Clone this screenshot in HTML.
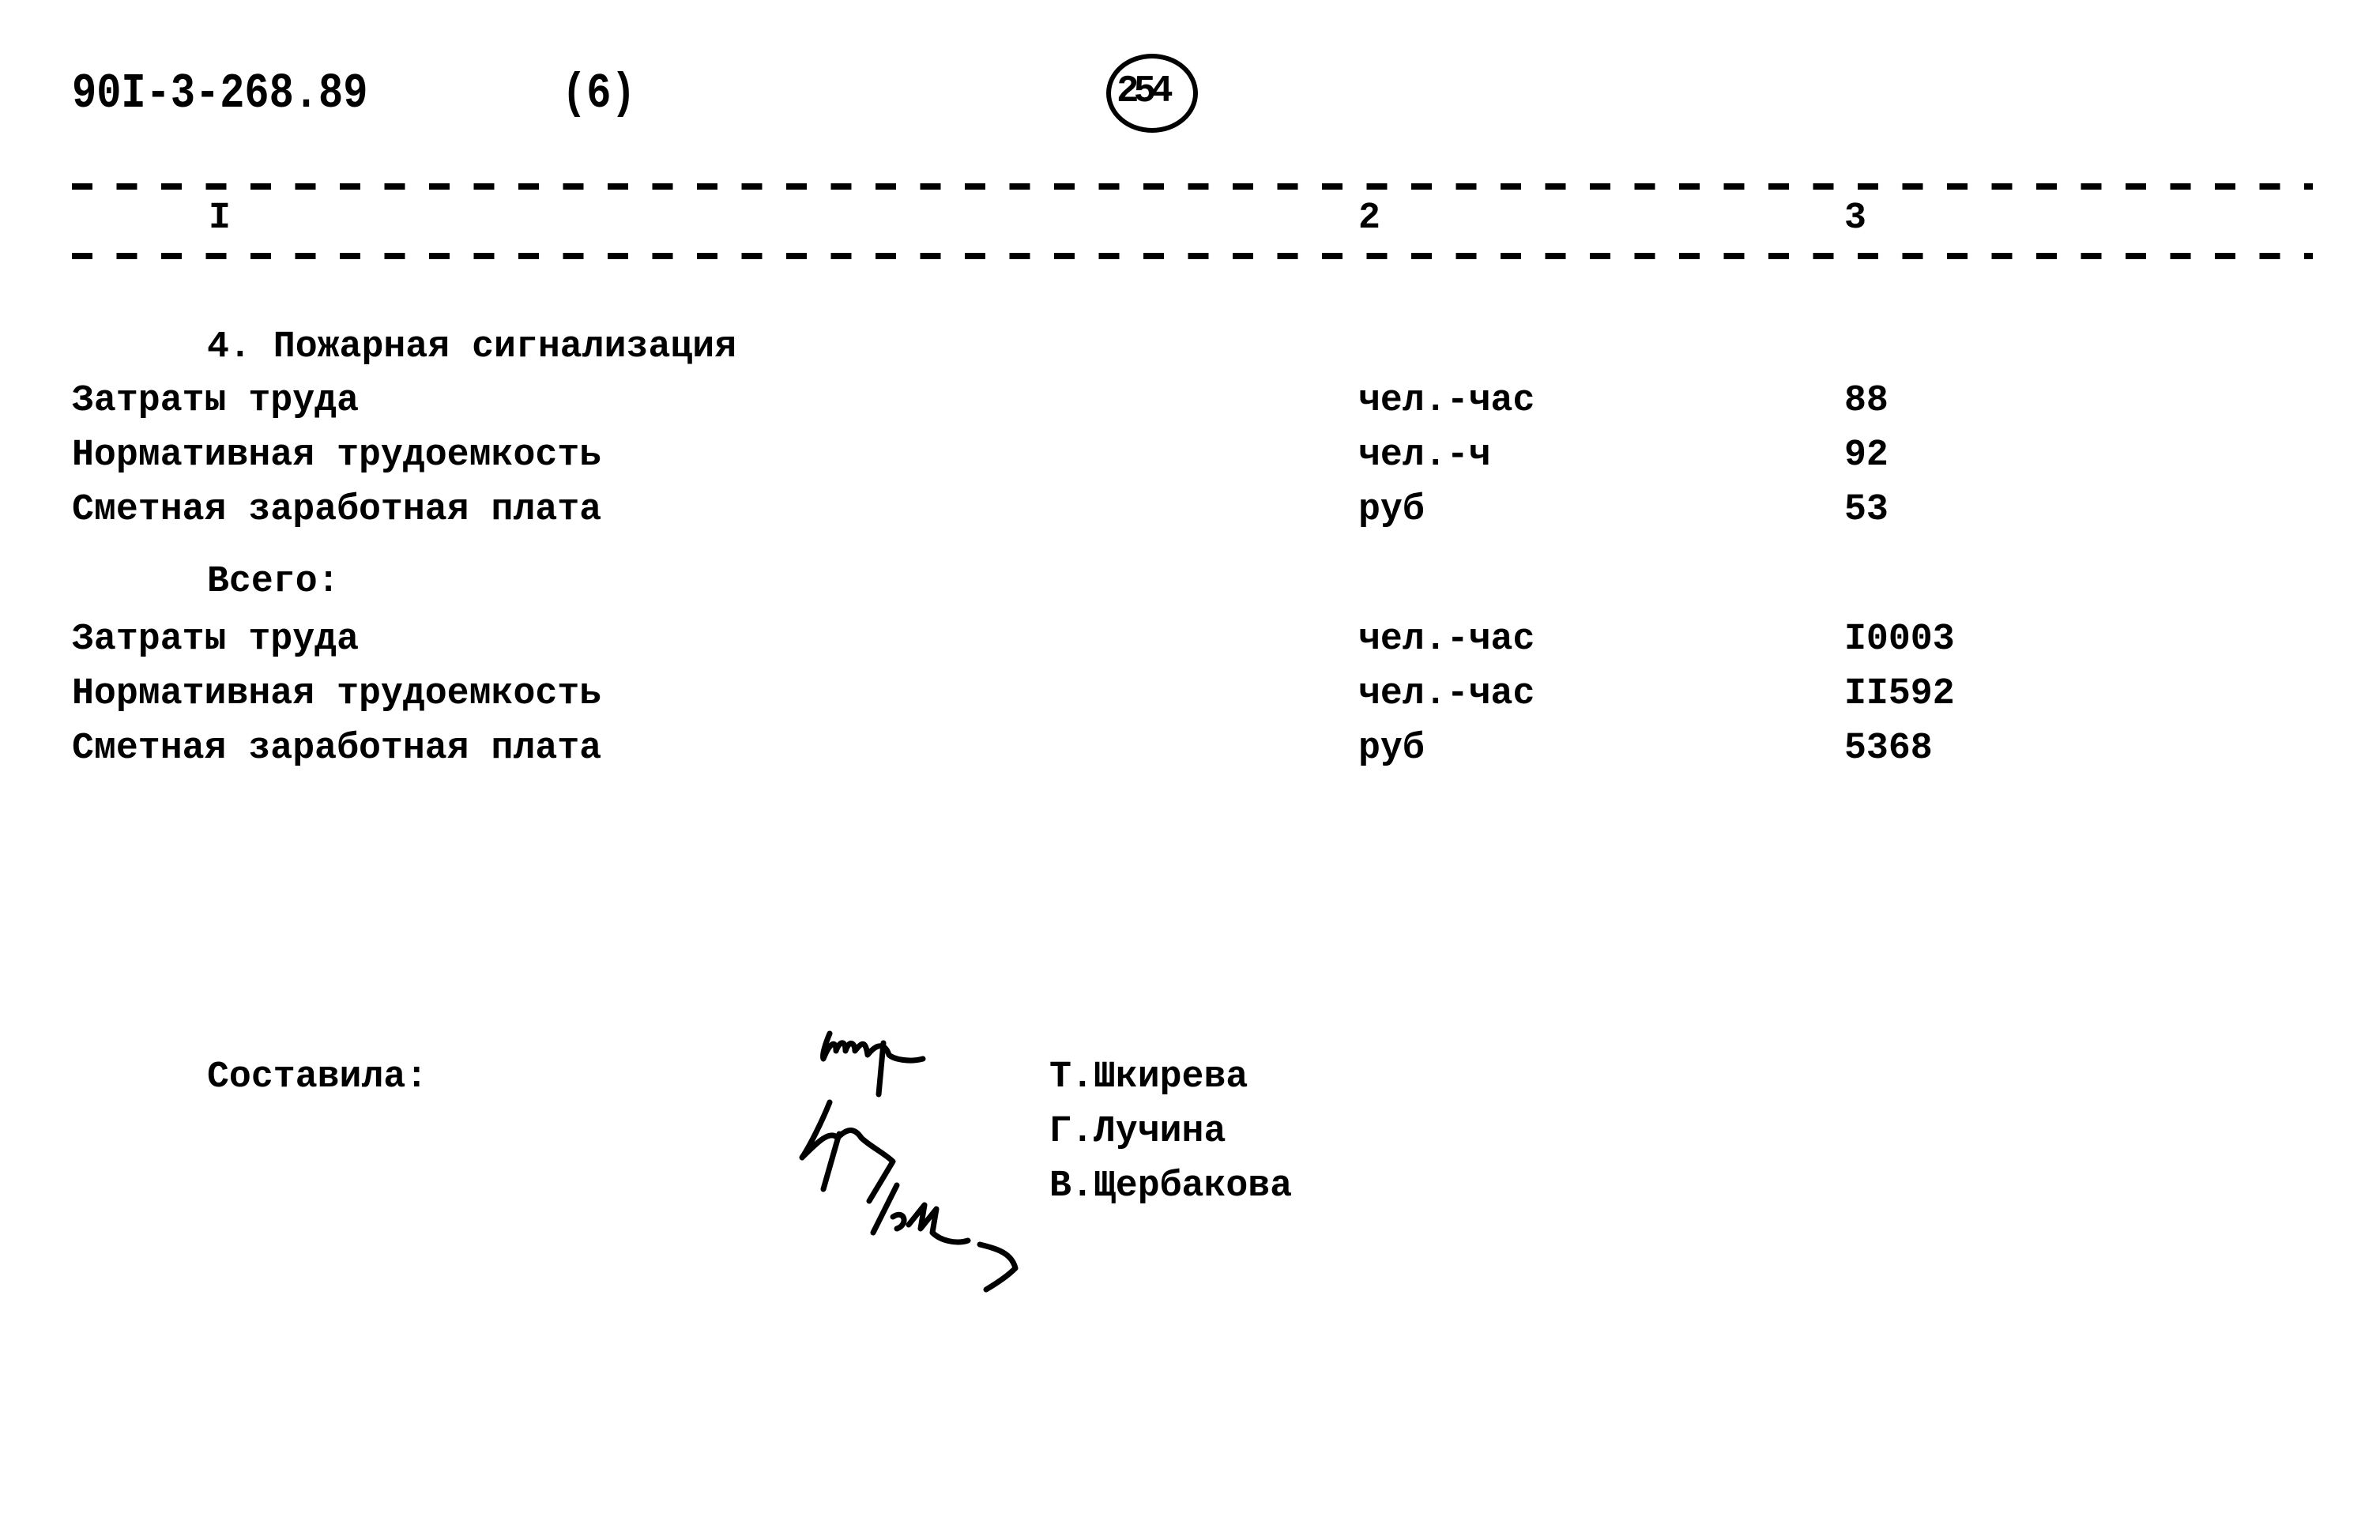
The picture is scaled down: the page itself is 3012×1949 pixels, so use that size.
<!DOCTYPE html>
<html><head><meta charset="utf-8"><style>
body{margin:0;width:3012px;height:1949px;background:#fff;position:relative;overflow:hidden}
.t{position:absolute;font-family:"Liberation Mono","DejaVu Sans Mono",monospace;font-weight:bold;font-size:47px;color:#000;white-space:pre;line-height:1;transform:scaleX(0.99);transform-origin:0 0}
.d{position:absolute;left:91px;width:2836px;height:8px;background:repeating-linear-gradient(90deg,#000 0 26px,transparent 26px 56.5px)}
</style></head><body>
<div class="t" style="left:91px;top:88px;font-size:52px;transform:scaleY(1.2);transform-origin:0 0">90I-3-268.89</div>
<div class="t" style="left:711px;top:88px;font-size:52px;transform:scaleY(1.2);transform-origin:0 0">(6)</div>
<div class="t" style="left:1413px;top:92px;font-size:48px;letter-spacing:-7px">254</div>
<div style="position:absolute;left:1400px;top:68px;width:104px;height:88px;border:6px solid #000;border-radius:50%"></div>
<div class="d" style="top:232px"></div>
<div class="d" style="top:320px"></div>
<div class="t" style="left:264px;top:253px">I</div>
<div class="t" style="left:1719px;top:253px">2</div>
<div class="t" style="left:2334px;top:253px">3</div>

<div class="t" style="left:262px;top:416px">4. Пожарная сигнализация</div>
<div class="t" style="left:91px;top:484px">Затраты труда</div>
<div class="t" style="left:91px;top:553px">Нормативная трудоемкость</div>
<div class="t" style="left:91px;top:622px">Сметная заработная плата</div>
<div class="t" style="left:1719px;top:484px">чел.-час</div>
<div class="t" style="left:1719px;top:553px">чел.-ч</div>
<div class="t" style="left:1719px;top:622px">руб</div>
<div class="t" style="left:2334px;top:484px">88</div>
<div class="t" style="left:2334px;top:553px">92</div>
<div class="t" style="left:2334px;top:622px">53</div>

<div class="t" style="left:262px;top:713px">Всего:</div>
<div class="t" style="left:91px;top:786px">Затраты труда</div>
<div class="t" style="left:91px;top:855px">Нормативная трудоемкость</div>
<div class="t" style="left:91px;top:924px">Сметная заработная плата</div>
<div class="t" style="left:1719px;top:786px">чел.-час</div>
<div class="t" style="left:1719px;top:855px">чел.-час</div>
<div class="t" style="left:1719px;top:924px">руб</div>
<div class="t" style="left:2334px;top:786px">I0003</div>
<div class="t" style="left:2334px;top:855px">II592</div>
<div class="t" style="left:2334px;top:924px">5368</div>

<div class="t" style="left:262px;top:1340px">Составила:</div>
<div class="t" style="left:1328px;top:1340px">Т.Шкирева</div>
<div class="t" style="left:1328px;top:1409px">Г.Лучина</div>
<div class="t" style="left:1328px;top:1478px">В.Щербакова</div>

<svg style="position:absolute;left:0;top:0" width="3012" height="1949">
<g fill="none" stroke="#000" stroke-width="7" stroke-linecap="round" stroke-linejoin="round">
<path d="M1050,1308 C1045,1320 1040,1335 1042,1340 C1050,1320 1058,1315 1058,1330 C1062,1318 1070,1315 1070,1330 C1075,1315 1082,1320 1082,1330 C1090,1320 1095,1315 1098,1335 C1110,1320 1120,1320 1125,1335 C1130,1340 1150,1345 1168,1340"/>
<path d="M1118,1320 L1112,1385"/>
<path d="M1050,1395 C1040,1420 1025,1450 1015,1465 C1035,1445 1050,1430 1060,1440 C1070,1430 1080,1425 1090,1440 C1100,1450 1120,1460 1130,1470 L1100,1520"/>
<path d="M1062,1435 L1042,1505"/>
<path d="M1135,1500 L1105,1560 M1130,1540 C1145,1530 1150,1550 1135,1555 M1150,1550 L1170,1525 L1165,1555 L1185,1530 L1180,1560 C1190,1570 1210,1575 1225,1570 M1240,1575 C1260,1580 1280,1585 1285,1605 C1275,1615 1260,1625 1248,1632"/>
</g></svg>
</body></html>
